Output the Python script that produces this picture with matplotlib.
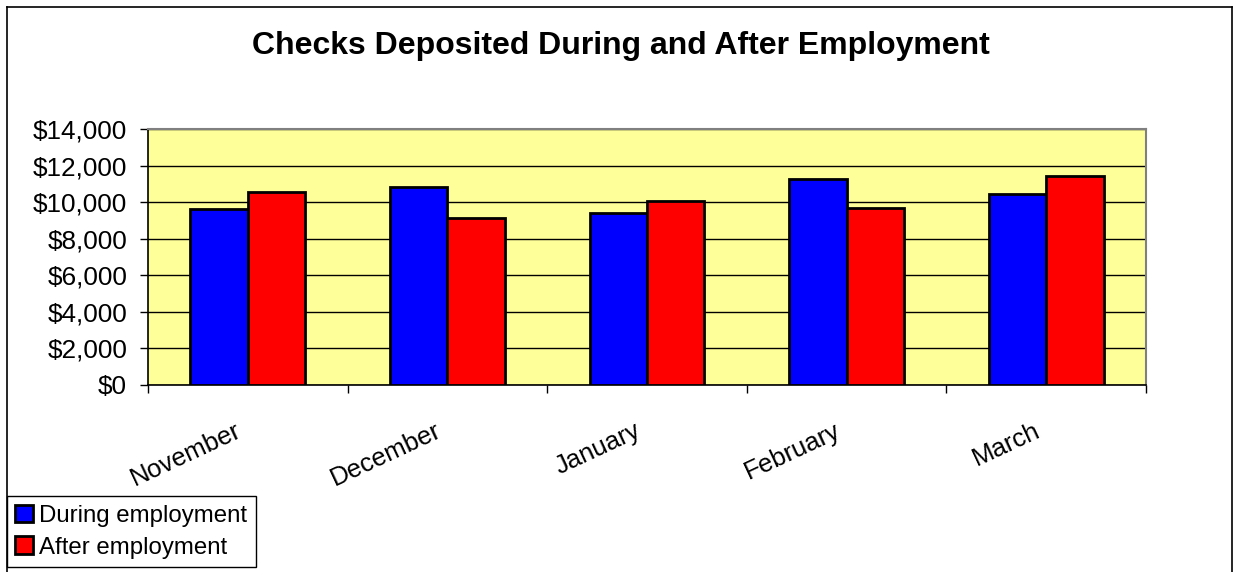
import matplotlib

matplotlib.use("Agg")
import matplotlib.pyplot as plt
import numpy as np
from matplotlib.lines import Line2D
from matplotlib.ticker import FuncFormatter, FixedLocator
from matplotlib.transforms import ScaledTranslation

months = ["November", "December", "January", "February", "March"]
during = [9600, 10830, 9390, 11250, 10460]
after = [10550, 9110, 10040, 9660, 11430]
series_names = ["During employment", "After employment"]
y_ticks = [0, 2000, 4000, 6000, 8000, 10000, 12000, 14000]

plt.rcParams["font.family"] = ["Liberation Sans", "DejaVu Sans"]

W, H = 1233, 572
fig = plt.figure(figsize=(W / 100, H / 100), dpi=100)
ax = fig.add_axes([148 / W, 1 - 385 / H, (1146 - 148) / W, (385 - 129) / H])
ax.set_facecolor("#FFFF99")

x = np.arange(len(months))
bw = 0.288
ax.bar(x - bw / 2, during, bw, color="#0000FF", edgecolor="black",
       linewidth=2.0, label=series_names[0], zorder=3)
ax.bar(x + bw / 2, after, bw, color="#FF0000", edgecolor="black",
       linewidth=2.0, label=series_names[1], zorder=3)

ax.set_xlim(-0.5, len(months) - 0.5)
ax.set_ylim(0, 14000)
ax.set_yticks(y_ticks)
ax.yaxis.set_major_formatter(FuncFormatter(lambda v, _: f"${v:,.0f}"))
ax.grid(axis="y", color="black", linewidth=1.0, zorder=1)
ax.tick_params(axis="y", direction="out", length=6, width=1, pad=9,
               labelsize=18.8)

# boundary ticks (major) and centred month labels (minor)
ax.xaxis.set_major_locator(FixedLocator(np.arange(len(months) + 1) - 0.5))
ax.xaxis.set_major_formatter(FuncFormatter(lambda v, _: ""))
ax.xaxis.set_minor_locator(FixedLocator(x))
ax.set_xticklabels(months, minor=True)
ax.tick_params(axis="x", which="major", direction="out", length=6, width=1)
ax.tick_params(axis="x", which="minor", length=0, pad=24, labelsize=18.5)
for lab in ax.get_xticklabels(minor=True):
    lab.set_rotation(25)
    lab.set_ha("right")
    lab.set_va("top")
    lab.set_rotation_mode("anchor")
    lab.set_transform(lab.get_transform()
                      + ScaledTranslation(-0.13, 0, fig.dpi_scale_trans))

for side in ("left", "bottom"):
    ax.spines[side].set_color("black")
    ax.spines[side].set_linewidth(1.2)
for side in ("top", "right"):
    ax.spines[side].set_color("#808080")
    ax.spines[side].set_linewidth(1.5)

fig.text(0.5035, 1 - 46 / H, "Checks Deposited During and After Employment",
         ha="center", va="center", fontsize=23, fontweight="bold")

leg = fig.legend(loc="lower left", bbox_to_anchor=(7 / W, 5 / H),
                 fontsize=17.3, frameon=True, fancybox=False, framealpha=1,
                 edgecolor="black", handlelength=0.75, handleheight=0.75,
                 handletextpad=0.25, borderpad=0.35, labelspacing=0.4,
                 borderaxespad=0)
leg.get_frame().set_linewidth(1.0)

# outer chart border
fig.add_artist(Line2D([7 / W, 7 / W], [0, 1 - 7 / H], color="black", lw=1.2))
fig.add_artist(Line2D([7 / W, 1232 / W], [1 - 7 / H, 1 - 7 / H],
                      color="black", lw=1.2))
fig.add_artist(Line2D([1232 / W, 1232 / W], [0, 1 - 7 / H], color="black",
                      lw=1.2))

fig.savefig("out.png", dpi=100)
